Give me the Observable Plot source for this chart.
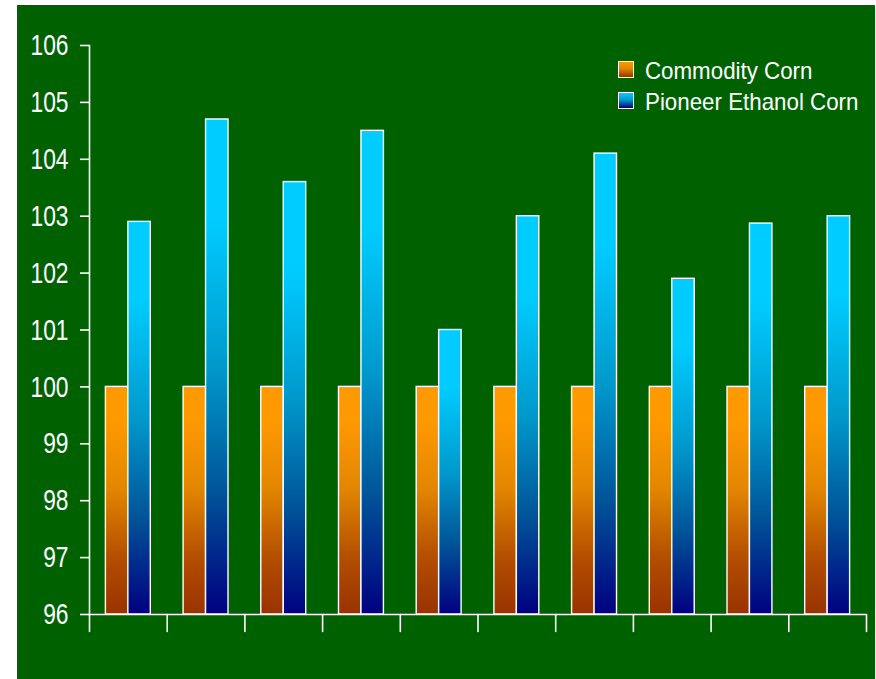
<!DOCTYPE html>
<html>
<head>
<meta charset="utf-8">
<script src="https://cdn.jsdelivr.net/npm/d3@7"></script>
<script src="https://cdn.jsdelivr.net/npm/@observablehq/plot@0.6"></script>
<style>
  html, body { margin: 0; padding: 0; background: #ffffff; }
  #page { position: relative; width: 876px; height: 679px; overflow: hidden; }
  #panel { position: absolute; left: 17px; top: 5px; width: 858px; height: 674px; background: #006100; }
  .leg { position: absolute; font-family: "Liberation Sans", Arial, sans-serif; font-size: 24px; color: #ffffff; line-height: 24px; white-space: nowrap; transform: scaleX(0.93); transform-origin: 0 50%; }
  .sw { position: absolute; width: 14px; height: 15px; border: 1.5px solid #ffffff; }
</style>
</head>
<body>
<svg width="0" height="0" style="position:absolute">
  <defs>
    <linearGradient id="gradOrange" x1="0" y1="0" x2="0" y2="1">
      <stop offset="0" stop-color="#FF9900"/>
      <stop offset="0.15" stop-color="#FF9900"/>
      <stop offset="0.45" stop-color="#E38600"/>
      <stop offset="0.75" stop-color="#B44E00"/>
      <stop offset="1" stop-color="#993300"/>
    </linearGradient>
    <linearGradient id="gradBlue" x1="0" y1="0" x2="0" y2="1">
      <stop offset="0" stop-color="#00CCFF"/>
      <stop offset="0.2" stop-color="#00CCFF"/>
      <stop offset="0.5" stop-color="#0099CC"/>
      <stop offset="0.75" stop-color="#005599"/>
      <stop offset="1" stop-color="#000080"/>
    </linearGradient>
  </defs>
</svg>
<div id="page">
  <div id="panel"></div>
  <div class="sw" style="left:618px; top:61px; background: linear-gradient(#FF9900 0%, #E08400 45%, #993300 100%);"></div>
  <div class="leg" id="leg0" style="left:645px; top:59px;"></div>
  <div class="sw" style="left:618px; top:92px; background: linear-gradient(#00CCFF 0%, #0099CC 45%, #000080 100%);"></div>
  <div class="leg" id="leg1" style="left:645px; top:90px;"></div>
</div>
<script>
// ---- data ----
const seriesNames = ["Commodity Corn", "Pioneer Ethanol Corn"];
const groups = ["1", "2", "3", "4", "5", "6", "7", "8", "9", "10"];
const commodity = [100, 100, 100, 100, 100, 100, 100, 100, 100, 100];
const pioneer = [102.9, 104.7, 103.6, 104.5, 101.0, 103.0, 104.1, 101.9, 102.87, 103.0];
const yDomain = [96, 106];
const yTicks = [96, 97, 98, 99, 100, 101, 102, 103, 104, 105, 106];

const FONT = '"Liberation Sans", Arial, sans-serif';

const rows = groups.flatMap((g, i) => [
  {group: g, series: seriesNames[0], value: commodity[i]},
  {group: g, series: seriesNames[1], value: pioneer[i]}
]);

document.getElementById("leg0").textContent = seriesNames[0];
document.getElementById("leg1").textContent = seriesNames[1];

const tickShape = {
  draw(context, l) {
    context.moveTo(0, 0);
    context.lineTo(0, -l);
  }
};

const chart = Plot.plot({
  width: 858,
  height: 674,
  marginLeft: 72,
  marginRight: 9,
  marginTop: 40,
  marginBottom: 65,
  style: {background: "transparent", color: "white", fontFamily: FONT, fontSize: "30px", overflow: "visible"},
  fx: {domain: groups, padding: 0, round: false, axis: null},
  x: {domain: seriesNames, paddingInner: 0, paddingOuter: 0.73, round: false, axis: null},
  y: {domain: yDomain, axis: null},
  marks: [
    Plot.barY(rows.filter(d => d.series === seriesNames[0]), {
      fx: "group", x: "series", y1: yDomain[0], y2: "value",
      fill: "url(#gradOrange)", stroke: "white", strokeWidth: 1.4
    }),
    Plot.barY(rows.filter(d => d.series === seriesNames[1]), {
      fx: "group", x: "series", y1: yDomain[0], y2: "value",
      fill: "url(#gradBlue)", stroke: "white", strokeWidth: 1.4
    }),
    Plot.ruleY([yDomain[0]], {stroke: "white", strokeWidth: 1.6}),
    Plot.frame({anchor: "left", facetAnchor: "left", stroke: "white", strokeWidth: 1.6}),
    Plot.axisY({
      ticks: yTicks, tickSize: 9, tickPadding: 12, stroke: "white", fill: "white",
      strokeWidth: 1.6, fontSize: 30, label: null
    }),
    Plot.vector([0], {
      frameAnchor: "bottom-left", length: 17, rotate: 180, anchor: "start",
      stroke: "white", strokeWidth: 1.6, r: 0, shape: tickShape
    }),
    Plot.vector([0], {
      frameAnchor: "bottom-right", facetAnchor: "right", length: 17, rotate: 180, anchor: "start",
      stroke: "white", strokeWidth: 1.6, r: 0, shape: tickShape
    })
  ]
});
document.getElementById("panel").appendChild(chart);

// condense the tick labels horizontally to match the narrow typeface of the reference
d3.select(chart).selectAll('g[aria-label="y-axis tick label"] text').each(function () {
  const w = this.getComputedTextLength();
  this.setAttribute("textLength", (w * 0.76).toFixed(2));
  this.setAttribute("lengthAdjust", "spacingAndGlyphs");
});
</script>
</body>
</html>
